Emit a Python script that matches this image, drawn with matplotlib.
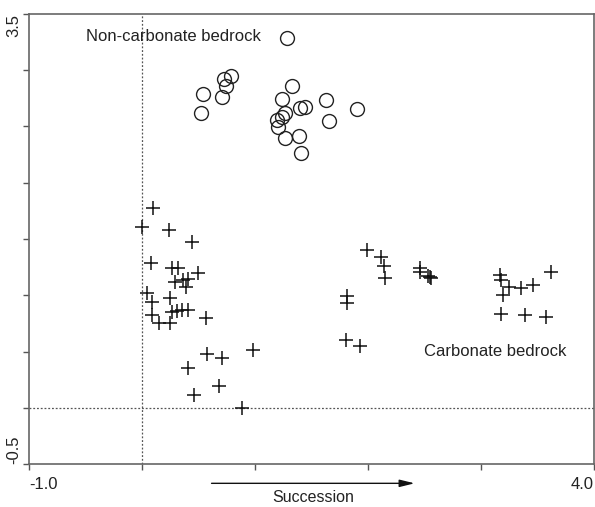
import matplotlib
matplotlib.use("Agg")
import matplotlib.pyplot as plt
import matplotlib.transforms as mtransforms

plt.rcParams['font.family'] = ['Liberation Sans', 'DejaVu Sans']

# Non-carbonate bedrock sites (circles)
circ_x = [1.283, 0.534, 0.522, 0.703, 0.723, 0.785, 0.738, 1.327, 1.239, 1.263,
          1.195, 1.242, 1.201, 1.269, 1.387, 1.407, 1.396, 1.440, 1.632, 1.655, 1.903]
circ_y = [3.289, 2.791, 2.620, 2.764, 2.922, 2.948, 2.857, 2.862, 2.747, 2.617,
          2.557, 2.587, 2.495, 2.395, 2.418, 2.264, 2.667, 2.676, 2.735, 2.546, 2.652]

# Carbonate bedrock sites (crosses)
cross_x = [0.092, 0.000, 0.236, 0.442, 0.074, 0.265, 0.313, 0.490, 0.402, 0.360,
           0.289, 0.384, 0.039, 0.083, 0.245, 0.083, 0.148, 0.248, 0.260, 0.304,
           0.349, 0.402, 0.561, 0.982, 0.570, 0.708, 0.407, 0.681, 0.463, 0.888,
           1.995, 2.118, 2.139, 2.154, 2.462, 2.462, 2.546, 2.561, 2.530,
           1.818, 1.818, 1.809, 1.933,
           3.171, 3.180, 3.248, 3.195, 3.357, 3.460, 3.617, 3.180, 3.387, 3.579]
cross_y = [1.778, 1.603, 1.580, 1.470, 1.289, 1.239, 1.239, 1.195, 1.141, 1.135,
           1.115, 1.070, 1.017, 0.942, 0.978, 0.824, 0.750, 0.756, 0.853, 0.862,
           0.868, 0.868, 0.795, 0.513, 0.474, 0.439, 0.350, 0.196, 0.113, 0.000,
           1.402, 1.337, 1.262, 1.156, 1.239, 1.203, 1.164, 1.150, 1.170,
           0.993, 0.928, 0.602, 0.551,
           1.180, 1.135, 1.076, 1.002, 1.061, 1.091, 1.203, 0.830, 0.824, 0.809]

x_ticks = [-1, 0, 1, 2, 3, 4]
x_ticklabels = ['-1.0', '', '', '', '', '4.0']
y_ticks = [-0.5, 0, 0.5, 1.0, 1.5, 2.0, 2.5, 3.0, 3.5]
y_ticklabels = ['-0.5', '', '', '', '', '', '', '', '3.5']

fig = plt.figure(figsize=(5.95, 5.07), dpi=100)
ax = fig.add_axes([0.0493, 0.0848, 0.9487, 0.8876])

ax.axvline(0, color='#555555', lw=0.9, ls=(0, (1.5, 1.5)), zorder=1)
ax.axhline(0, color='#555555', lw=0.9, ls=(0, (1.5, 1.5)), zorder=1)

ax.plot(circ_x, circ_y, ls='none', marker='o', ms=10, mfc='none', mec='#222222', mew=1.0)
ax.plot(cross_x, cross_y, ls='none', marker='+', ms=9.5, mec='#111111', mew=1.1)

ax.set_xlim(-1, 4)
ax.set_ylim(-0.5, 3.5)
ax.set_xticks(x_ticks)
ax.set_xticklabels(x_ticklabels)
ax.set_yticks(y_ticks)
ax.set_yticklabels(y_ticklabels, rotation=90)

for s in ax.spines.values():
    s.set_color('#666666')
    s.set_linewidth(1.2)
ax.tick_params(axis='both', length=4.5, width=1.0, color='#555555',
               labelsize=12, labelcolor='#222222')
ax.tick_params(axis='x', pad=5)
ax.tick_params(axis='y', pad=1.5)

xl = ax.get_xticklabels()
xl[0].set_ha('left')
xl[-1].set_ha('right')
yl = ax.get_yticklabels()
yl[0].set_va('bottom')
yl[-1].set_va('top')

ax.text(-0.498, 3.304, 'Non-carbonate bedrock', fontsize=12, ha='left', va='center', color='#222222')
ax.text(2.496, 0.498, 'Carbonate bedrock', fontsize=12, ha='left', va='center', color='#222222')

trans = mtransforms.blended_transform_factory(ax.transData, fig.transFigure)
ax.annotate('', xy=(2.413, 0.0467), xytext=(0.614, 0.0467),
            xycoords=trans, textcoords=trans,
            arrowprops=dict(arrowstyle='-|>,head_length=0.9,head_width=0.22',
                            color='#111111', lw=1.0, shrinkA=0, shrinkB=0),
            annotation_clip=False)
fig.text(1.517, 0.0178, 'Succession', fontsize=11.5, ha='center', va='center',
         color='#222222', transform=trans)

fig.savefig('out.png', dpi=100)
